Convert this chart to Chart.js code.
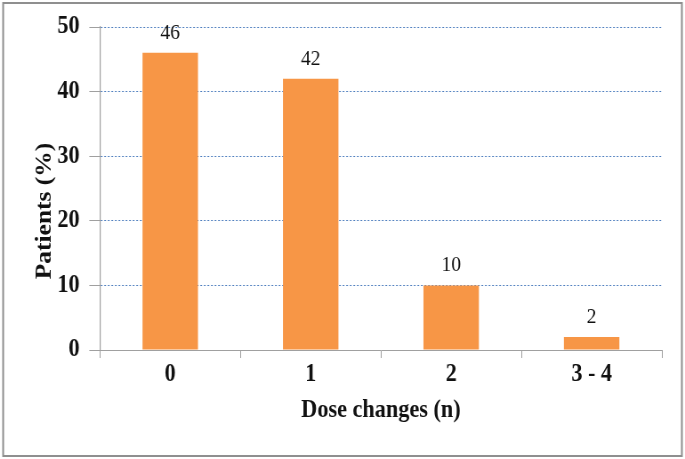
<!DOCTYPE html>
<html>
<head>
<meta charset="utf-8">
<script src="https://cdn.jsdelivr.net/npm/chart.js@4/dist/chart.umd.min.js"></script>
<style>
html,body{margin:0;padding:0;background:#fff;overflow:hidden;}
#outer{width:685px;height:459px;overflow:hidden;position:relative;}
#inner{width:770px;height:459px;transform:scaleX(0.8896);transform-origin:0 0;}
</style>
</head>
<body>
<div id="outer"><div id="inner"><canvas id="c" width="770" height="459"></canvas></div></div>
<script>
const categories = ["0", "1", "2", "3 - 4"];
const patientsPct = [46, 42, 10, 2];
const yTicks = [0, 10, 20, 30, 40, 50];
const xTitle = "Dose changes (n)";
const yTitle = "Patients (%)";

const serif = "'Liberation Serif', 'Times New Roman', serif";
const axisGray = "#a0a0a0";

const frame = {
  id: 'frame',
  beforeDraw(chart) {
    const ctx = chart.ctx;
    ctx.save();
    ctx.fillStyle = '#fff';
    ctx.fillRect(0, 0, chart.width, chart.height);
    ctx.strokeStyle = '#8f8f8f';
    ctx.lineWidth = 2;
    ctx.strokeRect(3.5, 3, chart.width - 7, chart.height - 6);
    ctx.restore();
  }
};

const yAxisTitle = {
  id: 'yAxisTitle',
  afterDraw(chart) {
    const ctx = chart.ctx;
    ctx.save();
    ctx.translate(50.5, 211);
    ctx.rotate(-Math.PI / 2);
    ctx.font = "bold 25.5px " + serif;
    ctx.fillStyle = "#111";
    ctx.textAlign = "center";
    ctx.textBaseline = "middle";
    ctx.fillText(yTitle, 0, 0);
    ctx.restore();
  }
};

const valueLabels = {
  id: 'valueLabels',
  afterDatasetsDraw(chart) {
    const ctx = chart.ctx;
    const meta = chart.getDatasetMeta(0);
    ctx.save();
    ctx.font = "22px " + serif;
    ctx.fillStyle = "#111";
    ctx.textAlign = "center";
    ctx.textBaseline = "alphabetic";
    meta.data.forEach((bar, i) => {
      ctx.fillText(String(chart.data.datasets[0].data[i]), bar.x, bar.y - 14);
    });
    ctx.restore();
  }
};

new Chart(document.getElementById('c'), {
  type: 'bar',
  data: {
    labels: categories,
    datasets: [{
      data: patientsPct,
      backgroundColor: '#F79646',
      borderWidth: 0,
      categoryPercentage: 1.0,
      barPercentage: 0.395
    }]
  },
  options: {
    responsive: false,
    animation: false,
    devicePixelRatio: 1,
    layout: { padding: { left: 0, top: 27, right: 26, bottom: 0 } },
    plugins: { legend: { display: false }, tooltip: { enabled: false } },
    scales: {
      x: {
        offset: true,
        grid: { offset: true, drawOnChartArea: false, drawTicks: true, tickLength: 8, tickColor: axisGray, lineWidth: 1 },
        border: { display: true, color: axisGray, width: 1 },
        ticks: { color: '#111', font: { family: serif, size: 25, weight: 'bold' }, padding: 2, maxRotation: 0 },
        title: { display: true, text: xTitle, color: '#111', font: { family: serif, size: 25, weight: 'bold' }, padding: { top: 0, bottom: 33 } },
        afterFit(scale) { scale.height = 109; }
      },
      y: {
        min: 0, max: 50,
        afterBuildTicks(scale) { scale.ticks = yTicks.map(v => ({ value: v })); },
        grid: {
          color: ctx => ctx.tick && ctx.tick.value === 0 ? 'rgba(0,0,0,0)' : '#4f7fbf',
          lineWidth: 1,
          drawTicks: true, tickLength: 12, tickColor: axisGray, tickBorderDash: [], tickWidth: 1
        },
        border: { display: true, color: axisGray, width: 1.2, dash: [2, 2] },
        ticks: { color: '#111', font: { family: serif, size: 25, weight: 'bold' }, padding: 11 },
        title: { display: false },
        afterFit(scale) { scale.width = 112.4; }
      }
    }
  },
  plugins: [frame, valueLabels, yAxisTitle]
});
</script>
</body>
</html>
